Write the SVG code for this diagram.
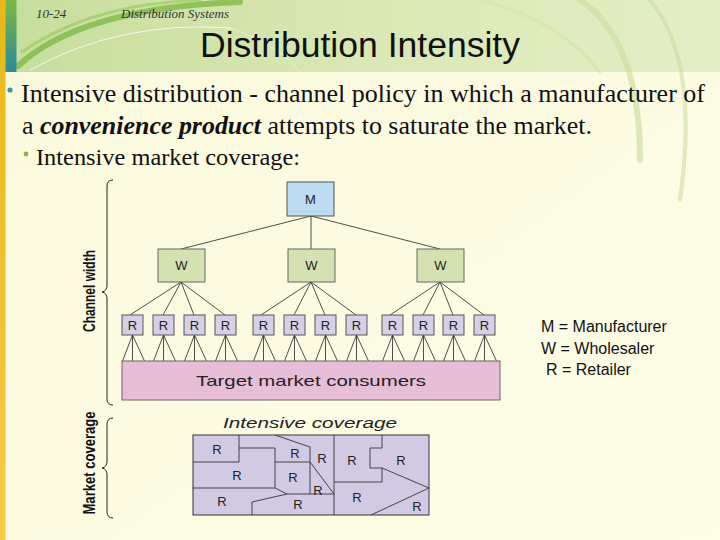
<svg xmlns="http://www.w3.org/2000/svg" width="720" height="540" viewBox="0 0 720 540">
<defs>
<linearGradient id="hdr" x1="0" y1="0" x2="1" y2="0">
<stop offset="0" stop-color="#c6dd9c"/>
<stop offset="0.5" stop-color="#d9e8b4"/>
<stop offset="1" stop-color="#e4efc6"/>
</linearGradient>
<linearGradient id="bg" x1="0" y1="0" x2="1" y2="1">
<stop offset="0" stop-color="#fbf9dc"/>
<stop offset="1" stop-color="#fdfde8"/>
</linearGradient>
<linearGradient id="yel" x1="0" y1="0" x2="0" y2="1">
<stop offset="0" stop-color="#e8b818"/>
<stop offset="1" stop-color="#f2cc48"/>
</linearGradient>
<linearGradient id="teal" x1="0" y1="0" x2="0" y2="1">
<stop offset="0" stop-color="#7cb844"/>
<stop offset="1" stop-color="#2a8a9a"/>
</linearGradient>
<style>
.lbl{font-family:"Liberation Sans",Arial,sans-serif;font-size:13px;fill:#222;text-anchor:middle}
.m{fill:#bddcf2;stroke:#555;stroke-width:1}
.w{fill:#d4e2b2;stroke:#666;stroke-width:1}
.r{fill:#d6d0e6;stroke:#555;stroke-width:1}
.c{fill:#e7bdd8;stroke:#666;stroke-width:1}
.ln{stroke:#222;stroke-width:0.8;fill:none}
.map{fill:#d2cae2;stroke:#333;stroke-width:1}
.ml{stroke:#333;stroke-width:0.9;fill:none}
.brace{fill:none;stroke:#222;stroke-width:1}
.side{font-family:"Liberation Sans",Arial,sans-serif;font-weight:bold;font-size:16px;fill:#111;text-anchor:middle}
.leg{font-family:"Liberation Sans",Arial,sans-serif;font-size:16px;fill:#111}
</style>
</defs>

<!-- background -->
<rect x="0" y="0" width="720" height="540" fill="url(#bg)"/>
<rect x="0" y="0" width="720" height="72" fill="url(#hdr)"/>
<g fill="none" stroke-linecap="round">
<path d="M18 66 Q80 8 240 2" stroke="#86bc4c" stroke-width="6" opacity="0.85"/>
<path d="M22 52 Q90 4 200 0" stroke="#9ccc60" stroke-width="3" opacity="0.7"/>
<path d="M30 70 Q120 20 230 28" stroke="#ffffff" stroke-width="1" opacity="0.8"/>
<path d="M230 28 Q280 45 300 72" stroke="#ffffff" stroke-width="0.8" opacity="0.6"/>
<path d="M580 0 Q640 40 640 160" stroke="#c8dc9c" stroke-width="6" opacity="0.6"/>
<path d="M650 0 Q700 60 680 200" stroke="#c4da98" stroke-width="4" opacity="0.5"/>
<path d="M480 0 Q560 20 600 72" stroke="#d2e4aa" stroke-width="3" opacity="0.6"/>
</g>
<rect x="0" y="0" width="5.5" height="540" fill="url(#yel)"/>
<rect x="5.5" y="0" width="11" height="72" fill="url(#teal)"/>

<!-- header texts -->
<text x="36" y="18" font-family="'Liberation Serif', serif" font-style="italic" font-size="13" fill="#333">10-24</text>
<text x="121" y="18" font-family="'Liberation Serif', serif" font-style="italic" font-size="13" fill="#333">Distribution Systems</text>
<text x="360" y="57" font-family="'Liberation Sans', Arial, sans-serif" font-size="35" fill="#111" text-anchor="middle" textLength="320" lengthAdjust="spacingAndGlyphs">Distribution Intensity</text>

<!-- bullets -->
<circle cx="10" cy="90" r="2.6" fill="#2f9ab0"/>
<text x="21" y="102" font-family="'Liberation Serif', 'Times New Roman', serif" font-size="26" fill="#111" textLength="684" lengthAdjust="spacingAndGlyphs">Intensive distribution - channel policy in which a manufacturer of</text>
<text x="22" y="134" font-family="'Liberation Serif', 'Times New Roman', serif" font-size="26" fill="#111" textLength="570" lengthAdjust="spacingAndGlyphs">a <tspan font-weight="bold" font-style="italic">convenience product</tspan> attempts to saturate the market.</text>
<circle cx="26" cy="154" r="2.4" fill="#7fba4a"/>
<text x="36" y="165" font-family="'Liberation Serif', 'Times New Roman', serif" font-size="24" fill="#111" textLength="264" lengthAdjust="spacingAndGlyphs">Intensive market coverage:</text>

<!-- side braces and labels -->
<g id="channel-width">
<path class="brace" d="M113 180 Q107 180 107 186 L107 285 Q107 291 102 292 Q107 293 107 299 L107 399 Q107 405 113 405"/>
<text class="side" transform="translate(95,291) rotate(-90)" textLength="82" lengthAdjust="spacingAndGlyphs">Channel width</text>
</g>
<g id="market-coverage">
<path class="brace" d="M113 418 Q107 418 107 424 L107 461 Q107 467 102 468 Q107 469 107 475 L107 512 Q107 518 113 518"/>
<text class="side" transform="translate(95,463) rotate(-90)" textLength="103" lengthAdjust="spacingAndGlyphs">Market coverage</text>
</g>

<!-- connectors -->
<g id="connectors" class="ln">
<line x1="311" y1="216" x2="181" y2="249"/>
<line x1="311" y1="216" x2="311" y2="249"/>
<line x1="311" y1="216" x2="440" y2="249"/>
<line x1="181" y1="282" x2="130" y2="315"/>
<line x1="181" y1="282" x2="163" y2="315"/>
<line x1="181" y1="282" x2="194" y2="315"/>
<line x1="181" y1="282" x2="225" y2="315"/>
<line x1="311" y1="282" x2="261" y2="315"/>
<line x1="311" y1="282" x2="294" y2="315"/>
<line x1="311" y1="282" x2="325" y2="315"/>
<line x1="311" y1="282" x2="356" y2="315"/>
<line x1="440" y1="282" x2="390" y2="315"/>
<line x1="440" y1="282" x2="423" y2="315"/>
<line x1="440" y1="282" x2="453" y2="315"/>
<line x1="440" y1="282" x2="484" y2="315"/>
<path d="M132.5 335 L122.5 361 M132.5 335 L132.5 361 M132.5 335 L144.5 361
M163.5 335 L153.5 361 M163.5 335 L163.5 361 M163.5 335 L175.5 361
M194.5 335 L184.5 361 M194.5 335 L194.5 361 M194.5 335 L206.5 361
M225.5 335 L215.5 361 M225.5 335 L225.5 361 M225.5 335 L237.5 361
M263.5 335 L253.5 361 M263.5 335 L263.5 361 M263.5 335 L275.5 361
M294.5 335 L284.5 361 M294.5 335 L294.5 361 M294.5 335 L306.5 361
M325.5 335 L315.5 361 M325.5 335 L325.5 361 M325.5 335 L337.5 361
M356.5 335 L346.5 361 M356.5 335 L356.5 361 M356.5 335 L368.5 361
M392.5 335 L382.5 361 M392.5 335 L392.5 361 M392.5 335 L404.5 361
M423.5 335 L413.5 361 M423.5 335 L423.5 361 M423.5 335 L435.5 361
M453.5 335 L443.5 361 M453.5 335 L453.5 361 M453.5 335 L465.5 361
M484.5 335 L474.5 361 M484.5 335 L484.5 361 M484.5 335 L496.5 361"/>
</g>

<!-- nodes -->
<g id="node-M"><rect class="m" x="287" y="182" width="47" height="34"/><text class="lbl" x="310.5" y="204">M</text></g>
<g id="node-W1"><rect class="w" x="158" y="249" width="47" height="33"/><text class="lbl" x="181.5" y="270">W</text></g>
<g id="node-W2"><rect class="w" x="288" y="249" width="47" height="33"/><text class="lbl" x="311.5" y="270">W</text></g>
<g id="node-W3"><rect class="w" x="417" y="249" width="47" height="33"/><text class="lbl" x="440.5" y="270">W</text></g>

<g id="node-R1"><rect class="r" x="122" y="315" width="21" height="20"/><text class="lbl" x="132.5" y="330">R</text></g>
<g id="node-R2"><rect class="r" x="153" y="315" width="21" height="20"/><text class="lbl" x="163.5" y="330">R</text></g>
<g id="node-R3"><rect class="r" x="184" y="315" width="21" height="20"/><text class="lbl" x="194.5" y="330">R</text></g>
<g id="node-R4"><rect class="r" x="215" y="315" width="21" height="20"/><text class="lbl" x="225.5" y="330">R</text></g>
<g id="node-R5"><rect class="r" x="253" y="315" width="21" height="20"/><text class="lbl" x="263.5" y="330">R</text></g>
<g id="node-R6"><rect class="r" x="284" y="315" width="21" height="20"/><text class="lbl" x="294.5" y="330">R</text></g>
<g id="node-R7"><rect class="r" x="315" y="315" width="21" height="20"/><text class="lbl" x="325.5" y="330">R</text></g>
<g id="node-R8"><rect class="r" x="346" y="315" width="21" height="20"/><text class="lbl" x="356.5" y="330">R</text></g>
<g id="node-R9"><rect class="r" x="382" y="315" width="21" height="20"/><text class="lbl" x="392.5" y="330">R</text></g>
<g id="node-R10"><rect class="r" x="413" y="315" width="21" height="20"/><text class="lbl" x="423.5" y="330">R</text></g>
<g id="node-R11"><rect class="r" x="443" y="315" width="21" height="20"/><text class="lbl" x="453.5" y="330">R</text></g>
<g id="node-R12"><rect class="r" x="474" y="315" width="21" height="20"/><text class="lbl" x="484.5" y="330">R</text></g>

<g id="node-consumers"><rect class="c" x="122" y="361" width="378" height="39"/>
<text x="311" y="386" font-family="'Liberation Sans', Arial, sans-serif" font-size="15" fill="#222" text-anchor="middle" textLength="230" lengthAdjust="spacingAndGlyphs">Target market consumers</text></g>

<!-- intensive coverage map -->
<g id="coverage-map">
<text x="310" y="428" font-family="'Liberation Sans', Arial, sans-serif" font-style="italic" font-size="14" fill="#222" text-anchor="middle" textLength="174" lengthAdjust="spacingAndGlyphs">Intensive coverage</text>
<rect class="map" x="193" y="435" width="236" height="80"/>
<path class="ml" d="M239 435 L239 462 L193 462
M239 448 L275 448 L275 488 L193 488
M275 435 L310 447 L310 494
M275 462 L310 462 L334 494
M275 488 L287 494 L334 494
M287 494 L252 502 L252 515
M334 435 L334 515
M382 435 L382 448 L370 448 L370 468 L382 468 L382 482 L334 482
M382 468 L429 488 L371 515"/>
<g class="lbl" font-size="14">
<text x="217" y="454">R</text>
<text x="237" y="480">R</text>
<text x="222" y="506">R</text>
<text x="295" y="458">R</text>
<text x="322" y="463">R</text>
<text x="293" y="482">R</text>
<text x="318" y="495">R</text>
<text x="298" y="509">R</text>
<text x="352" y="465">R</text>
<text x="401" y="465">R</text>
<text x="357" y="502">R</text>
<text x="417" y="511">R</text>
</g>
</g>

<!-- legend -->
<g id="legend">
<text class="leg" x="541" y="332">M = Manufacturer</text>
<text class="leg" x="541" y="354">W = Wholesaler</text>
<text class="leg" x="546" y="375">R = Retailer</text>
</g>
</svg>
